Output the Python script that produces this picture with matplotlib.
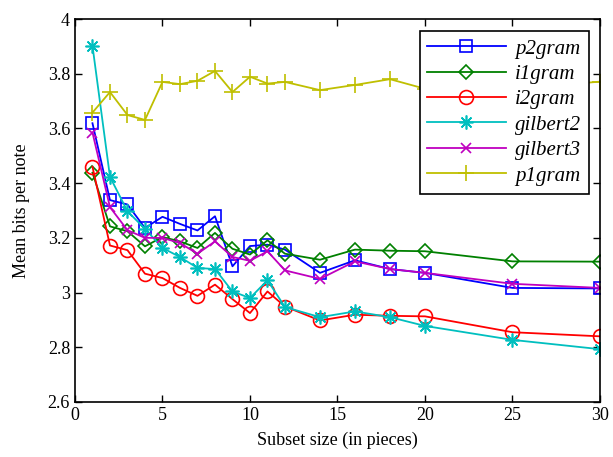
import matplotlib
matplotlib.use("Agg")
import matplotlib.pyplot as plt

x = [1, 2, 3, 4, 5, 6, 7, 8, 9, 10, 11, 12, 14, 16, 18, 20, 25, 30]

p2gram = [3.619, 3.338, 3.322, 3.236, 3.277, 3.251, 3.227, 3.279, 3.096, 3.170,
          3.175, 3.157, 3.072, 3.118, 3.086, 3.072, 3.017, 3.015]
i1gram = [3.438, 3.242, 3.224, 3.169, 3.203, 3.187, 3.163, 3.218, 3.160, 3.139,
          3.191, 3.142, 3.120, 3.157, 3.153, 3.151, 3.114, 3.113]
i2gram = [3.460, 3.172, 3.155, 3.069, 3.053, 3.017, 2.988, 3.029, 2.976, 2.925,
          3.004, 2.949, 2.898, 2.919, 2.915, 2.913, 2.855, 2.840]
gilbert2 = [3.902, 3.423, 3.297, 3.233, 3.163, 3.130, 3.090, 3.086, 3.004, 2.980,
            3.045, 2.947, 2.910, 2.931, 2.910, 2.878, 2.827, 2.793]
gilbert3 = [3.585, 3.312, 3.228, 3.200, 3.200, 3.181, 3.142, 3.187, 3.130, 3.116,
            3.151, 3.081, 3.050, 3.114, 3.086, 3.072, 3.032, 3.017]
p1gram = [3.658, 3.733, 3.649, 3.631, 3.770, 3.762, 3.774, 3.810, 3.733, 3.789,
          3.764, 3.770, 3.740, 3.759, 3.780, 3.745, 3.745, 3.771]

series = [
    ("p2gram", p2gram, (0, 0, 1), "s", 8),
    ("i1gram", i1gram, (0, 0.5, 0), "D", 7.5),
    ("i2gram", i2gram, (1, 0, 0), "o", 10),
    ("gilbert2", gilbert2, (0, 0.75, 0.75), (8, 2, 0), 10),
    ("gilbert3", gilbert3, (0.75, 0, 0.75), "x", 7),
    ("p1gram", p1gram, (0.75, 0.75, 0), "+", 11),
]

plt.rcParams['font.family'] = ['Liberation Serif', 'DejaVu Serif']

fig = plt.figure(figsize=(6.13, 4.57), dpi=100)
ax = fig.add_axes([0.1223, 0.1204, 0.9788 - 0.1223, 0.9584 - 0.1204])

for name, vals, col, mk, ms in series:
    ax.plot(x, vals, color=col, marker=mk, markersize=ms, markerfacecolor='none',
            markeredgecolor=col, markeredgewidth=1.2, linewidth=1.3, label=name)

ax.set_xlim(0, 30)
ax.set_ylim(2.6, 4.0)
ax.set_xticks([0, 5, 10, 15, 20, 25, 30])
ax.set_yticks([2.6, 2.8, 3.0, 3.2, 3.4, 3.6, 3.8, 4.0])
ax.set_yticklabels(["2.6", "2.8", "3", "3.2", "3.4", "3.6", "3.8", "4"])
ax.tick_params(direction='in', top=True, right=True, labelsize=13, length=5, width=1)
for s in ax.spines.values():
    s.set_linewidth(1.2)

ax.set_xlabel("Subset size (in pieces)", fontsize=13, labelpad=6)
ax.set_ylabel("Mean bits per note", fontsize=13, labelpad=13)

leg = ax.legend(loc='upper right', bbox_to_anchor=(0.979, 0.9686),
                prop={'style': 'italic', 'size': 15, 'family': ['Liberation Serif']},
                handlelength=3.75, fancybox=False, edgecolor='black', framealpha=1,
                labelspacing=0.28, borderpad=0.38, handletextpad=0.45, borderaxespad=0)
leg.get_frame().set_linewidth(1.2)

fig.savefig("out.png", dpi=100)
